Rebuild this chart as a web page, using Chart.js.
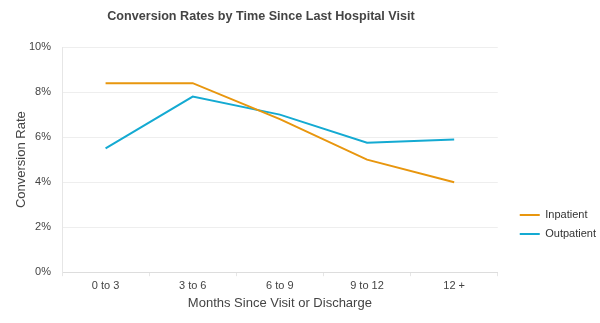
<!DOCTYPE html>
<html>
<head>
<meta charset="utf-8">
<script src="https://cdn.jsdelivr.net/npm/chart.js@4/dist/chart.umd.min.js"></script>
<style>
html,body{margin:0;padding:0;background:#fff;}
#wrap{width:600px;height:323px;}
</style>
</head>
<body>
<div id="wrap"><canvas id="c" width="600" height="323"></canvas></div>
<script>
const categories = ['0 to 3', '3 to 6', '6 to 9', '9 to 12', '12 +'];
const inpatient = [8.4, 8.4, 6.8, 5.0, 4.0];
const outpatient = [5.5, 7.8, 7.0, 5.75, 5.9];
const seriesNames = ['Inpatient', 'Outpatient'];
const titleText = 'Conversion Rates by Time Since Last Hospital Visit';
const xTitle = 'Months Since Visit or Discharge';
const yTitle = 'Conversion Rate';

const ORANGE = '#E8960E';
const BLUE = '#14AAD2';
const FONT = "'Liberation Sans', Arial, Helvetica, sans-serif";

const layoutTweak = {
  id: 'layoutTweak',
  afterLayout(chart) {
    const t = chart.titleBlock;
    if (t) { t.left = 0; t.right = 522; }
    const l = chart.legend;
    if (l) { l.left += 14; l.right += 14; }
  }
};

new Chart(document.getElementById('c'), {
  type: 'line',
  data: {
    labels: categories,
    datasets: [
      { label: seriesNames[0], data: inpatient, borderColor: ORANGE, backgroundColor: ORANGE, borderWidth: 2, pointRadius: 0, tension: 0 },
      { label: seriesNames[1], data: outpatient, borderColor: BLUE, backgroundColor: BLUE, borderWidth: 2, pointRadius: 0, tension: 0 }
    ]
  },
  plugins: [layoutTweak],
  options: {
    responsive: false,
    animation: false,
    layout: { padding: { left: 14, right: 8, top: 6, bottom: 12 } },
    plugins: {
      title: {
        display: true, text: titleText, color: '#444',
        font: { family: FONT, size: 12.6, weight: 'bold' },
        padding: { top: 3, bottom: 23 }
      },
      legend: {
        position: 'right', align: 'start',
        title: { display: true, text: '', padding: { top: 181, bottom: 0 } },
        labels: {
          usePointStyle: true, pointStyle: 'line', pointStyleWidth: 20,
          boxWidth: 20, boxHeight: 11, padding: 8, color: '#333',
          font: { family: FONT, size: 11 }
        }
      },
      tooltip: { enabled: false }
    },
    scales: {
      x: {
        offset: true,
        grid: { display: true, drawOnChartArea: false, offset: true, color: '#e6e6e6', tickLength: 4 },
        border: { display: true, color: '#dddddd' },
        ticks: { color: '#444', font: { family: FONT, size: 11 }, padding: 3 },
        title: { display: true, text: xTitle, color: '#444', font: { family: FONT, size: 13 }, padding: { top: 0, bottom: 0 } }
      },
      y: {
        min: 0, max: 10,
        afterFit(scale) { scale.width = 48; },
        ticks: { stepSize: 2, color: '#444', font: { family: FONT, size: 11 }, padding: 11, callback: v => v + '%' },
        grid: { color: '#eeeeee', drawTicks: false },
        border: { display: true, color: '#e6e6e6' },
        title: { display: true, text: yTitle, color: '#444', font: { family: FONT, size: 13 }, padding: { top: 0, bottom: 2 } }
      }
    }
  }
});
</script>
</body>
</html>
